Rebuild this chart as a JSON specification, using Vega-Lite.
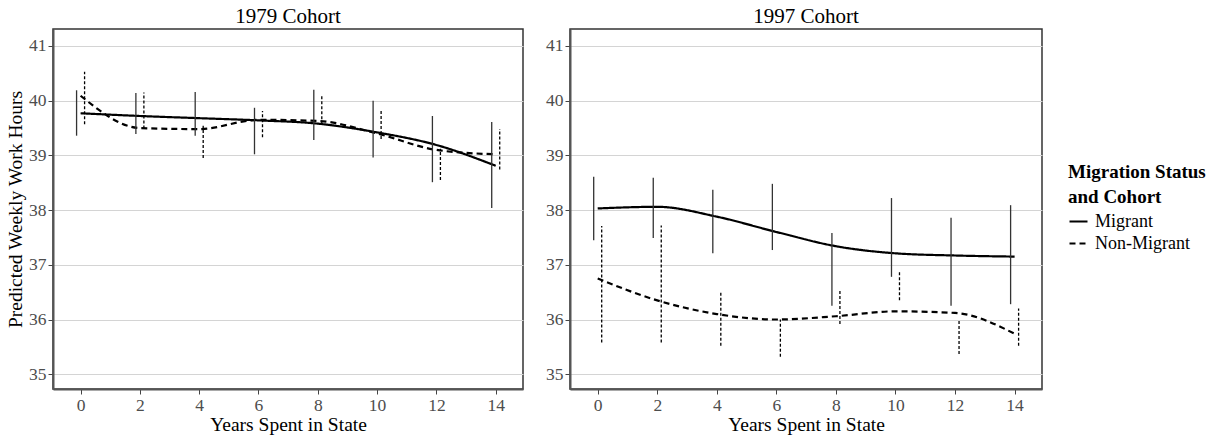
{
  "$schema": "https://vega.github.io/schema/vega-lite/v6.json",
  "padding": {"left": 4, "top": 5, "right": 2, "bottom": 1},
  "background": "white",
  "config": {
    "font": "Liberation Serif",
    "view": {"stroke": "#333333", "strokeWidth": 1.5},
    "axis": {
      "labelFont": "Liberation Serif", "labelFontSize": 17.5, "labelColor": "#4d4d4d", "labelPadding": 2,
      "titleFont": "Liberation Serif", "titleFontSize": 19.5, "titleFontWeight": "normal", "titleColor": "black",
      "gridColor": "#d4d4d4", "gridWidth": 1.2, "tickColor": "#444444", "tickSize": 5,
      "domainColor": "#555555", "domainWidth": 2
    },
    "title": {"font": "Liberation Serif", "fontSize": 21, "fontWeight": "normal", "color": "black", "offset": 2},
    "legend": {
      "titleFont": "Liberation Serif", "titleFontSize": 19, "titleFontWeight": "bold", "titleColor": "black", "titleLineHeight": 25, "titlePadding": 4,
      "labelFont": "Liberation Serif", "labelFontSize": 18, "labelColor": "black", "labelOffset": 6, "rowPadding": 2,
      "symbolType": "stroke", "symbolStrokeWidth": 2.2, "symbolSize": 324, "symbolStrokeColor": "black"
    },
    "concat": {"spacing": 20}
  },
  "datasets": {
    "d": [
      {"cohort": "1979", "status": "Migrant", "years": 0, "est": 39.77, "hi": 40.19, "lo": 39.36},
      {"cohort": "1979", "status": "Migrant", "years": 2, "est": 39.72, "hi": 40.14, "lo": 39.39},
      {"cohort": "1979", "status": "Migrant", "years": 4, "est": 39.68, "hi": 40.16, "lo": 39.36},
      {"cohort": "1979", "status": "Migrant", "years": 6, "est": 39.64, "hi": 39.87, "lo": 39.02},
      {"cohort": "1979", "status": "Migrant", "years": 8, "est": 39.58, "hi": 40.2, "lo": 39.28},
      {"cohort": "1979", "status": "Migrant", "years": 10, "est": 39.42, "hi": 40.0, "lo": 38.96},
      {"cohort": "1979", "status": "Migrant", "years": 12, "est": 39.19, "hi": 39.72, "lo": 38.51},
      {"cohort": "1979", "status": "Migrant", "years": 14, "est": 38.81, "hi": 39.61, "lo": 38.04},
      {"cohort": "1979", "status": "Non-Migrant", "years": 0, "est": 40.09, "hi": 40.53, "lo": 39.57},
      {"cohort": "1979", "status": "Non-Migrant", "years": 2, "est": 39.5, "hi": 40.15, "lo": 39.49},
      {"cohort": "1979", "status": "Non-Migrant", "years": 4, "est": 39.48, "hi": 39.54, "lo": 38.95},
      {"cohort": "1979", "status": "Non-Migrant", "years": 6, "est": 39.65, "hi": 39.81, "lo": 39.33},
      {"cohort": "1979", "status": "Non-Migrant", "years": 8, "est": 39.63, "hi": 40.1, "lo": 39.57},
      {"cohort": "1979", "status": "Non-Migrant", "years": 10, "est": 39.4, "hi": 39.81, "lo": 39.3},
      {"cohort": "1979", "status": "Non-Migrant", "years": 12, "est": 39.1, "hi": 39.12, "lo": 38.55},
      {"cohort": "1979", "status": "Non-Migrant", "years": 14, "est": 39.02, "hi": 39.48, "lo": 38.74},
      {"cohort": "1997", "status": "Migrant", "years": 0, "est": 38.03, "hi": 38.61, "lo": 37.45},
      {"cohort": "1997", "status": "Migrant", "years": 2, "est": 38.06, "hi": 38.59, "lo": 37.49},
      {"cohort": "1997", "status": "Migrant", "years": 4, "est": 37.88, "hi": 38.37, "lo": 37.21},
      {"cohort": "1997", "status": "Migrant", "years": 6, "est": 37.6, "hi": 38.48, "lo": 37.27},
      {"cohort": "1997", "status": "Migrant", "years": 8, "est": 37.34, "hi": 37.58, "lo": 36.25},
      {"cohort": "1997", "status": "Migrant", "years": 10, "est": 37.21, "hi": 38.22, "lo": 36.78},
      {"cohort": "1997", "status": "Migrant", "years": 12, "est": 37.17, "hi": 37.86, "lo": 36.25},
      {"cohort": "1997", "status": "Migrant", "years": 14, "est": 37.15, "hi": 38.09, "lo": 36.28},
      {"cohort": "1997", "status": "Non-Migrant", "years": 0, "est": 36.75, "hi": 37.71, "lo": 35.58},
      {"cohort": "1997", "status": "Non-Migrant", "years": 2, "est": 36.35, "hi": 37.72, "lo": 35.58},
      {"cohort": "1997", "status": "Non-Migrant", "years": 4, "est": 36.1, "hi": 36.5, "lo": 35.52},
      {"cohort": "1997", "status": "Non-Migrant", "years": 6, "est": 36.0, "hi": 36.0, "lo": 35.32},
      {"cohort": "1997", "status": "Non-Migrant", "years": 8, "est": 36.06, "hi": 36.56, "lo": 35.92},
      {"cohort": "1997", "status": "Non-Migrant", "years": 10, "est": 36.15, "hi": 36.87, "lo": 36.35},
      {"cohort": "1997", "status": "Non-Migrant", "years": 12, "est": 36.12, "hi": 36.01, "lo": 35.37},
      {"cohort": "1997", "status": "Non-Migrant", "years": 14, "est": 35.74, "hi": 36.2, "lo": 35.52}
    ]
  },
  "hconcat": [
    {
      "title": "1979 Cohort",
      "width": 470, "height": 360,
      "data": {"name": "d"},
      "transform": [{"filter": "datum.cohort == '1979'"}],
      "encoding": {
        "x": {"field": "years", "type": "quantitative", "scale": {"domain": [-0.93, 14.92], "nice": false, "zero": false},
              "axis": {"title": "Years Spent in State", "values": [0,2,4,6,8,10,12,14], "grid": false, "titlePadding": 2}}
      },
      "layer": [
        {
          "mark": {"type": "line", "interpolate": "monotone", "color": "black", "strokeWidth": 2.2},
          "encoding": {
            "y": {"field": "est", "type": "quantitative", "scale": {"domain": [34.73, 41.31], "nice": false, "zero": false},
                  "axis": {"title": "Predicted Weekly Work Hours", "values": [35,36,37,38,39,40,41], "titlePadding": 3}},
            "strokeDash": {"field": "status", "type": "nominal",
              "scale": {"domain": ["Migrant", "Non-Migrant"], "range": [[1, 0], [6, 4]]},
              "legend": {"title": ["Migration Status", "and Cohort"], "orient": "none", "legendX": 1015, "legendY": 134}}
          }
        },
        {
          "transform": [{"filter": "datum.status == 'Migrant'"}],
          "mark": {"type": "rule", "color": "#333333", "strokeWidth": 1.3, "xOffset": -4},
          "encoding": {"y": {"field": "lo", "type": "quantitative"}, "y2": {"field": "hi"}}
        },
        {
          "transform": [{"filter": "datum.status == 'Non-Migrant'"}],
          "mark": {"type": "rule", "color": "black", "strokeWidth": 1.3, "strokeDash": [3, 2], "xOffset": 4},
          "encoding": {"y": {"field": "lo", "type": "quantitative"}, "y2": {"field": "hi"}}
        }
      ]
    },
    {
      "title": "1997 Cohort",
      "width": 472, "height": 360,
      "data": {"name": "d"},
      "transform": [{"filter": "datum.cohort == '1997'"}],
      "encoding": {
        "x": {"field": "years", "type": "quantitative", "scale": {"domain": [-0.93, 14.92], "nice": false, "zero": false},
              "axis": {"title": "Years Spent in State", "values": [0,2,4,6,8,10,12,14], "grid": false, "titlePadding": 2}}
      },
      "layer": [
        {
          "mark": {"type": "line", "interpolate": "monotone", "color": "black", "strokeWidth": 2.2},
          "encoding": {
            "y": {"field": "est", "type": "quantitative", "scale": {"domain": [34.73, 41.31], "nice": false, "zero": false},
                  "axis": {"title": null, "values": [35,36,37,38,39,40,41]}},
            "strokeDash": {"field": "status", "type": "nominal",
              "scale": {"domain": ["Migrant", "Non-Migrant"], "range": [[1, 0], [6, 4]]},
              "legend": {"title": ["Migration Status", "and Cohort"], "orient": "none", "legendX": 1015, "legendY": 134}}
          }
        },
        {
          "transform": [{"filter": "datum.status == 'Migrant'"}],
          "mark": {"type": "rule", "color": "#333333", "strokeWidth": 1.3, "xOffset": -4},
          "encoding": {"y": {"field": "lo", "type": "quantitative"}, "y2": {"field": "hi"}}
        },
        {
          "transform": [{"filter": "datum.status == 'Non-Migrant'"}],
          "mark": {"type": "rule", "color": "black", "strokeWidth": 1.3, "strokeDash": [3, 2], "xOffset": 4},
          "encoding": {"y": {"field": "lo", "type": "quantitative"}, "y2": {"field": "hi"}}
        }
      ]
    }
  ]
}
